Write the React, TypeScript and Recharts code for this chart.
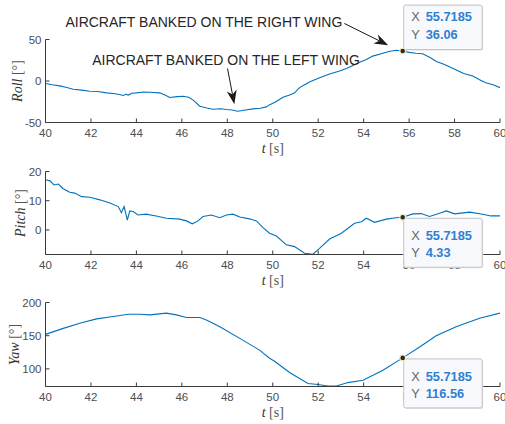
import React from 'react';
import { LineChart, Line, XAxis, YAxis, ReferenceDot, ReferenceLine } from 'recharts';

// attitude log between t = 40 s and t = 60 s, [time s, angle deg]
const tipTime = 55.7185;
const tipRoll = 36.06;
const tipPitch = 4.33;
const tipYaw = 116.56;

const roll: [number, number][] = [
  [40.0, -3], [40.3, -4.5], [40.63, -5.9], [40.9, -7.5], [41.22, -9.9], [41.6, -11],
  [41.95, -12.3], [42.3, -12.6], [42.68, -14.3], [43.0, -15], [43.3, -16.5], [43.42, -17.5],
  [43.55, -16], [43.64, -17], [43.8, -14.8], [44.0, -14.3], [44.3, -13.3], [44.59, -13.5],
  [45.03, -14.3], [45.25, -17], [45.47, -19.9], [45.8, -18.8], [46.05, -18.3], [46.3, -19.5],
  [46.5, -23], [46.79, -30.4], [47.1, -32.5], [47.37, -34], [47.7, -33.5], [47.96, -34.4],
  [48.2, -35], [48.47, -36.4], [48.8, -35], [49.13, -33.6], [49.45, -32.8], [49.72, -31.2],
  [49.87, -28.5], [50.1, -25.5], [50.45, -19.6], [50.74, -17], [50.95, -14.5], [51.18, -8],
  [51.4, -4.5], [51.62, -1.1], [51.85, 1.5], [52.06, 4], [52.5, 8.5], [52.94, 12],
  [53.24, 15], [53.6, 19.5], [53.82, 22.5], [54.12, 26], [54.4, 30], [54.85, 33.5],
  [55.1, 35.5], [55.43, 37], [tipTime, tipRoll], [56.0, 34.5], [56.3, 33.5], [56.6, 32.8],
  [56.9, 28.5], [57.2, 23.5], [57.5, 20.5], [57.8, 17], [58.1, 13], [58.4, 9],
  [58.8, 6], [59.1, 1.5], [59.4, -2.3], [59.7, -4.5], [60, -8],
];

const pitch: [number, number][] = [
  [40.0, 17.2], [40.2, 16.8], [40.37, 15.4], [40.56, 15.7], [40.78, 14.1], [41.07, 12.9],
  [41.29, 12.6], [41.59, 11.4], [41.95, 11.2], [42.39, 10.3], [42.83, 9.2], [43.2, 8.0],
  [43.34, 5.9], [43.46, 8.0], [43.6, 3.4], [43.71, 6.5], [43.86, 6.3], [44.07, 5.1],
  [44.43, 5.4], [44.87, 4.8], [45.32, 4.0], [45.9, 3.7], [46.2, 3.1], [46.46, 2.1],
  [46.71, 3.1], [46.93, 4.6], [47.3, 5.1], [47.67, 4.2], [47.96, 5.1], [48.25, 5.4],
  [48.55, 4.4], [48.98, 3.8], [49.28, 3.1], [49.57, 0.8], [49.86, -1.1], [50.16, -2.1],
  [50.6, -5.1], [50.96, -5.7], [51.4, -8.0], [51.77, -8.3], [52.06, -6.3], [52.5, -3.1],
  [53.02, -1.1], [53.6, 2.3], [53.9, 2.8], [54.12, 4.0], [54.48, 2.6], [55.0, 3.7],
  [55.43, 4.2], [tipTime, tipPitch], [56.17, 5.5], [56.53, 5.6], [56.9, 4.6], [57.34, 5.7],
  [57.64, 6.5], [58.0, 5.5], [58.66, 6.1], [59.24, 5.4], [59.6, 4.8], [60, 4.8],
];

const yaw: [number, number][] = [
  [40, 152], [40.78, 161], [41.51, 168.8], [42.25, 175.3], [42.98, 178.8], [43.64, 182.4],
  [44.15, 182.4], [44.59, 181.4], [45.32, 184], [45.76, 181.4], [46.2, 177.3], [46.79, 177.3],
  [47.08, 173.8], [47.67, 163.6], [48.55, 146], [49.42, 128.3], [49.86, 116], [50.08, 111.5],
  [50.74, 94.5], [51.55, 77.9], [51.99, 76.4], [52.43, 74.2], [52.8, 74.2], [53.31, 79.4],
  [53.97, 82.9], [54.85, 98], [tipTime, tipYaw], [56.48, 133.3], [57.19, 150], [58.07, 163.6],
  [59.1, 176.3], [60, 184],
];

const timeTicks = [40, 42, 44, 46, 48, 50, 52, 54, 56, 58, 60];
const rollTicks = [-50, 0, 50];
const pitchTicks = [0, 10, 20];
const yawTicks = [100, 150, 200];

// text arrows on the roll axes, endpoints in (t, deg)
const notes = [
  { text: 'AIRCRAFT BANKED ON THE RIGHT WING', from: [53.15, 69.3], to: [55.08, 43.1], anchor: 'end' },
  { text: 'AIRCRAFT BANKED ON THE LEFT WING', from: [48.01, 15.06], to: [48.31, -27.95], anchor: 'middle' },
];

const BLUE = '#0072BD';
const AXIS = '#3a3a3a';
const TICK_TEXT = '#4d4d4d';
const SANS = '"Liberation Sans", Arial, sans-serif';
const SERIF = '"Liberation Serif", "Times New Roman", serif';
const Y_AXIS_W = 45.5;
const X_AXIS_H = 34;

const toRows = (pts: [number, number][]) => pts.map(([t, v]) => ({ t, v }));

function TimeLabel(props: any) {
  const vb = props.viewBox || {};
  return (
    <text x={vb.x + vb.width / 2} y={vb.y + 30.5} textAnchor="middle" fontFamily={SERIF} fontSize={14}>
      <tspan fontStyle="italic" fill="#333">t</tspan>
      <tspan fill="#555"> [s]</tspan>
    </text>
  );
}

function AngleLabel(props: any) {
  const vb = props.viewBox || {};
  const x = props.lx;
  const y = vb.y + vb.height / 2;
  return (
    <text x={x} y={y} transform={`rotate(-90 ${x} ${y})`} textAnchor="middle" fontFamily={SERIF} fontSize={14}>
      <tspan fontStyle="italic" fill="#333">{props.name}</tspan>
      <tspan fill="#555"> [°]</tspan>
    </text>
  );
}

// MATLAB-style data tip: marker plus a box with the X / Y readout
function DataTip(props: any) {
  const { cx, cy, below, value } = props;
  const w = 78.5;
  const h = below ? 49 : 44.5;
  const bx = cx + 1;
  const by = below ? cy + 1 : cy - h - 1.5;
  const l1 = below ? 21.7 : 15.8;
  const l2 = below ? 39 : 34;
  return (
    <g>
      <rect x={bx + 1} y={by + 1} width={w} height={h} rx={2} fill="#e4e4e4" />
      <rect x={bx} y={by} width={w} height={h} rx={2} fill="#f8f9fc" stroke="#c2c2c2" />
      <text x={bx + 7.5} y={by + l1} fontFamily={SANS} fontSize={12.8} fill="#666">X</text>
      <text x={bx + 22} y={by + l1} fontFamily={SANS} fontSize={12.8} fontWeight="bold" fill="#2f80d1">
        {tipTime}
      </text>
      <text x={bx + 7.5} y={by + l2} fontFamily={SANS} fontSize={12.8} fill="#666">Y</text>
      <text x={bx + 22} y={by + l2} fontFamily={SANS} fontSize={12.8} fontWeight="bold" fill="#2f80d1">
        {value.toFixed(2)}
      </text>
      <circle cx={cx} cy={cy} r={2.9} fill="#2a2a2a" stroke="#f3edbe" strokeWidth={1.2} />
    </g>
  );
}

function NoteArrow(props: any) {
  const { x1, y1, x2, y2, note } = props;
  const dx = x2 - x1;
  const dy = y2 - y1;
  const len = Math.hypot(dx, dy) || 1;
  const ux = dx / len;
  const uy = dy / len;
  const nx = -uy;
  const ny = ux;
  const L = 14;
  const W = 5;
  const bx = x2 - ux * L;
  const by = y2 - uy * L;
  const kx = x2 - ux * L * 0.7;
  const ky = y2 - uy * L * 0.7;
  const head = `${x2},${y2} ${bx + nx * W},${by + ny * W} ${kx},${ky} ${bx - nx * W},${by - ny * W}`;
  const tx = note.anchor === 'end' ? x1 - 2 : x1 - 1.5;
  const ty = note.anchor === 'end' ? y1 + 4 : y1 - 3.5;
  return (
    <g>
      <line x1={x1} y1={y1} x2={kx} y2={ky} stroke="#1a1a1a" strokeWidth={1} />
      <polygon points={head} fill="#1a1a1a" />
      <text x={tx} y={ty} textAnchor={note.anchor} fontFamily={SANS} fontSize={14} fill="#262626">
        {note.text}
      </text>
    </g>
  );
}

type PanelProps = {
  top: number;
  height: number;
  plotTop: number;
  plotBottom: number;
  rows: { t: number; v: number }[];
  domain: [number, number];
  ticks: number[];
  name: string;
  labelX: number;
  tipValue: number;
  tipBelow: boolean;
  withNotes?: boolean;
};

function Panel(p: PanelProps) {
  const mTop = p.plotTop - p.top;
  const mBottom = p.top + p.height - p.plotBottom - X_AXIS_H;
  return (
    <div style={{ position: 'absolute', left: 0, top: p.top, width: 505, height: p.height }}>
      <div style={{ position: 'absolute', left: 0, top: 0 }}>
        <LineChart
          width={505}
          height={p.height}
          data={p.rows}
          margin={{ top: mTop, right: 5, left: 0, bottom: mBottom }}
          style={{ overflow: 'visible' }}
        >
          <XAxis
            dataKey="t"
            type="number"
            domain={[40, 60]}
            ticks={timeTicks}
            interval={0}
            allowDataOverflow
            height={X_AXIS_H}
            tickSize={-4}
            tickMargin={10.5}
            stroke={AXIS}
            tick={{ fill: TICK_TEXT, fontSize: 11.5, fontFamily: SANS }}
            label={<TimeLabel />}
          />
          <YAxis
            type="number"
            domain={p.domain}
            ticks={p.ticks}
            interval={0}
            allowDataOverflow
            width={Y_AXIS_W}
            tickSize={-4}
            tickMargin={8}
            stroke={AXIS}
            tick={{ fill: TICK_TEXT, fontSize: 11.5, fontFamily: SANS }}
            label={<AngleLabel name={p.name} lx={p.labelX} />}
          />
          <Line
            type="linear"
            dataKey="v"
            stroke={BLUE}
            strokeWidth={1.1}
            dot={false}
            isAnimationActive={false}
          />
          {p.withNotes &&
            notes.map((n) => (
              <ReferenceLine
                key={n.text}
                segment={[{ x: n.from[0], y: n.from[1] }, { x: n.to[0], y: n.to[1] }]}
                ifOverflow="visible"
                shape={(s: any) => <NoteArrow {...s} note={n} />}
              />
            ))}
        </LineChart>
      </div>
      {/* data tip sits above the axes, so it gets its own chart layer with the same scales */}
      <div style={{ position: 'absolute', left: 0, top: 0 }}>
        <LineChart
          width={505}
          height={p.height}
          data={p.rows}
          margin={{ top: mTop, right: 5, left: Y_AXIS_W, bottom: mBottom + X_AXIS_H }}
          style={{ overflow: 'visible' }}
        >
          <XAxis dataKey="t" type="number" domain={[40, 60]} allowDataOverflow hide />
          <YAxis type="number" domain={p.domain} allowDataOverflow hide />
          <ReferenceDot
            x={tipTime}
            y={p.tipValue}
            r={3}
            ifOverflow="visible"
            shape={(s: any) => <DataTip {...s} below={p.tipBelow} value={p.tipValue} />}
          />
        </LineChart>
      </div>
    </div>
  );
}

export default function App() {
  return (
    <div style={{ position: 'absolute', left: 0, top: 0, width: 505, height: 424, background: '#fff' }}>
      <Panel
        top={0}
        height={165}
        plotTop={39.5}
        plotBottom={122.5}
        rows={toRows(roll)}
        domain={[-50, 50]}
        ticks={rollTicks}
        name="Roll"
        labelX={21.5}
        tipValue={tipRoll}
        tipBelow={false}
        withNotes
      />
      <Panel
        top={140}
        height={150}
        plotTop={171.5}
        plotBottom={254.5}
        rows={toRows(pitch)}
        domain={[-8.4, 20]}
        ticks={pitchTicks}
        name="Pitch"
        labelX={25}
        tipValue={tipPitch}
        tipBelow
      />
      <Panel
        top={280}
        height={144}
        plotTop={302.5}
        plotBottom={386.5}
        rows={toRows(yaw)}
        domain={[73.5, 200]}
        ticks={yawTicks}
        name="Yaw"
        labelX={19}
        tipValue={tipYaw}
        tipBelow
      />
    </div>
  );
}
